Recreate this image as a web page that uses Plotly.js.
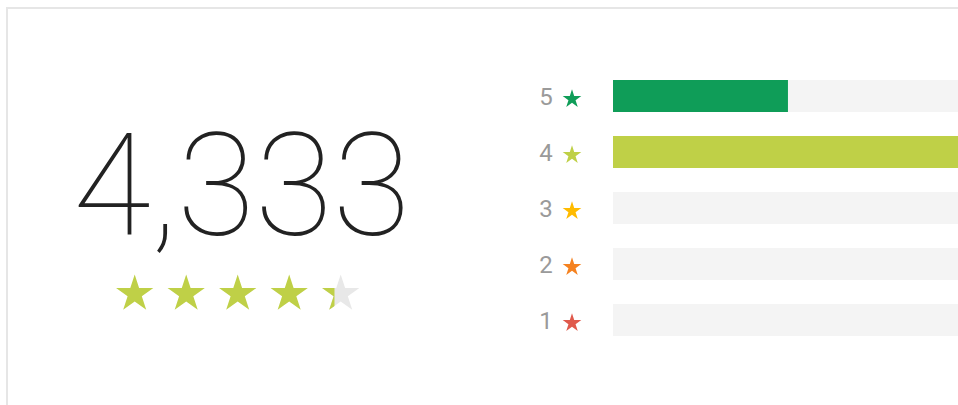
<!DOCTYPE html>
<html>
<head>
<meta charset="utf-8">
<script src="https://cdn.plot.ly/plotly-3.0.1.min.js"></script>
<style>html,body{margin:0;padding:0;background:#fff;}#chart{width:958px;height:405px;}</style>
</head>
<body>
<div id="chart"></div>
<script>
// ---- data ----
const starLevels = ['1', '2', '3', '4', '5'];
const ratingCounts = [0, 0, 0, 2875, 1458];
const levelColors = ['#e05a4c', '#f58220', '#ffbb00', '#bfd047', '#0f9d58'];
const starSlots = [1, 2, 3, 4, 5];

// ---- derived ----
const total = ratingCounts.reduce((a, b) => a + b, 0);
const average = ratingCounts.reduce((s, c, i) => s + c * (i + 1), 0) / total;
const maxCount = Math.max(...ratingCounts);

const W = 958, H = 405;
const px = v => v / W, py = v => (H - v) / H;

// star row geometry
const starStep = 51.5, starFirst = 134.7, starHalfW = 19 / starStep;
const rowLeft = starFirst - 0.5 * starStep;
const rowRight = rowLeft + 5 * starStep;
const frac = average - Math.floor(average);
const edgeData = Math.ceil(average) - starHalfW + frac * 2 * starHalfW;
const edgePx = rowLeft + (edgeData - 0.5) * starStep;

const traces = [
  // track
  {type: 'bar', orientation: 'h', y: starLevels, x: starLevels.map(() => maxCount),
   marker: {color: '#f4f4f4'}, hoverinfo: 'skip', xaxis: 'x', yaxis: 'y'},
  // values
  {type: 'bar', orientation: 'h', y: starLevels, x: ratingCounts,
   marker: {color: levelColors}, xaxis: 'x', yaxis: 'y'},
  // level labels
  {type: 'scatter', mode: 'text', y: starLevels, x: starLevels.map(() => 26),
   text: starLevels, textposition: 'middle center',
   textfont: {family: 'Roboto, Arial, sans-serif', size: 24, color: '#9a9a9a'},
   xaxis: 'x2', yaxis: 'y2', hoverinfo: 'skip', cliponaxis: false},
  // level stars
  {type: 'scatter', mode: 'markers', y: starLevels, x: starLevels.map(() => 52),
   marker: {symbol: 'star', size: 14, color: levelColors, line: {width: 0}},
   xaxis: 'x2', yaxis: 'y2', hoverinfo: 'skip', cliponaxis: false},
  // empty stars
  {type: 'scatter', mode: 'markers',
   x: starSlots.filter(s => s > Math.floor(average)),
   y: starSlots.filter(s => s > Math.floor(average)).map(() => 0.5),
   marker: {symbol: 'star', size: 28, color: '#e8e8e8', line: {width: 0}},
   xaxis: 'x3', yaxis: 'y3', hoverinfo: 'skip', cliponaxis: false},
  // filled stars (clipped at rating)
  {type: 'scatter', mode: 'markers', x: starSlots, y: starSlots.map(() => 0.5),
   marker: {symbol: 'star', size: 28, color: '#bfd047', line: {width: 0}},
   xaxis: 'x4', yaxis: 'y3', hoverinfo: 'skip', cliponaxis: true}
];

const hidden = {visible: false, fixedrange: true, showgrid: false, zeroline: false};
const catAxis = {type: 'category', categoryorder: 'array', categoryarray: starLevels, range: [-0.5, 4.5]};

const layout = {
  width: W, height: H,
  margin: {l: 0, r: 0, t: 0, b: 0},
  paper_bgcolor: '#ffffff', plot_bgcolor: 'rgba(0,0,0,0)',
  showlegend: false, barmode: 'overlay', bargap: 24 / 56,
  xaxis: Object.assign({}, hidden, {domain: [px(613), 1], range: [0, maxCount], anchor: 'y'}),
  yaxis: Object.assign({}, hidden, catAxis, {domain: [py(348), py(68)], anchor: 'x'}),
  xaxis2: Object.assign({}, hidden, {domain: [px(520), px(600)], range: [0, 80], anchor: 'y2'}),
  yaxis2: Object.assign({}, hidden, catAxis, {domain: [py(351), py(71)], anchor: 'x2'}),
  xaxis3: Object.assign({}, hidden, {domain: [px(rowLeft), px(rowRight)], range: [0.5, 5.5], anchor: 'y3'}),
  xaxis4: Object.assign({}, hidden, {domain: [px(rowLeft), px(edgePx)], range: [0.5, edgeData], anchor: 'y3'}),
  yaxis3: Object.assign({}, hidden, {domain: [py(318), py(270)], range: [0, 1], anchor: 'x3'}),
  annotations: [{
    xref: 'paper', yref: 'paper', x: px(242), y: py(187),
    xanchor: 'center', yanchor: 'middle', showarrow: false,
    text: total.toLocaleString('en-US'),
    font: {family: 'Roboto, Lato, sans-serif', size: 142, color: '#222222', weight: 100}
  }],
  shapes: [
    {type: 'line', xref: 'paper', yref: 'paper', x0: px(7), x1: px(7), y0: py(8), y1: 0,
     line: {color: '#e6e6e6', width: 2}},
    {type: 'line', xref: 'paper', yref: 'paper', x0: px(6), x1: 1, y0: py(8), y1: py(8),
     line: {color: '#e6e6e6', width: 2}}
  ]
};

Plotly.newPlot('chart', traces, layout, {displayModeBar: false, staticPlot: true});
</script>
</body>
</html>
